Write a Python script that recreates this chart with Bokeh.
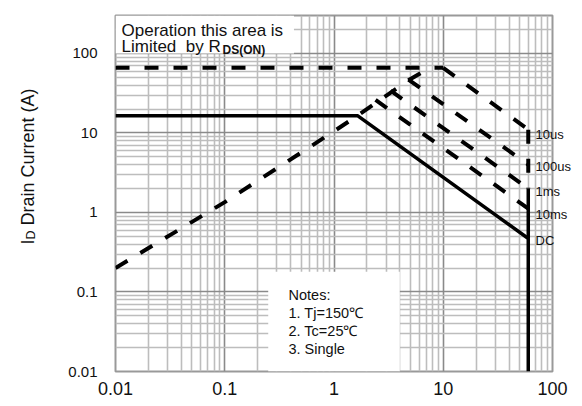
import math
from bokeh.plotting import figure
from bokeh.layouts import row
from bokeh.models import FixedTicker, Label, BoxAnnotation, Range1d, LogAxis
from bokeh.embed import file_html
from bokeh.resources import INLINE

# ---------------- data ----------------
x_ticks = [0.01, 0.1, 1, 10, 100]
x_tick_labels = ["0.01", "0.1", "1", "10", "100"]
y_ticks = [0.01, 0.1, 1, 10, 100]
y_tick_labels = ["0.01", "0.1", "1", "10", "100"]

vds_max = 60          # V, drain-source limit

# R_DS(ON) limit line
rds_x = [0.01, 0.1, 1, 1.64, 4.8, 7.5]
rds_y = [0.2, 1.35, 10.5, 16.5, 46, 66]

# pulsed current limit (horizontal)
ipk_x = [0.01, 10]
ipk_y = [66, 66]

# DC curve
dc_x = [0.01, 1.64, 60, 60]
dc_y = [16.5, 16.5, 0.47, 0.01]
dc_end_y = 0.47

# single pulse curves
pulse_names = ["10us", "100us", "1ms", "10ms"]
pulse_start_x = [10, 4.8, 3.3, 2.4]
pulse_start_y = [66, 47, 34, 26]
pulse_end_y = [11, 4.0, 2.0, 1.12]

# curve labels at right edge (y position)
curve_labels = ["10us", "100us", "1ms", "10ms", "DC"]
curve_label_y = [9.7, 3.8, 1.85, 0.94, 0.44]

# ---------------- layout ----------------
LEFT_W = 40
H = 404
FL, FR, FT, FB = 75, 28, 15, 33
FW, FH = 437, 356
FONT = "Liberation Sans"
TXT = "#111111"

p = figure(x_axis_type="log", y_axis_type="log",
           x_range=Range1d(0.01, 100), y_range=Range1d(0.01, 300),
           frame_width=FW, frame_height=FH,
           min_border_left=FL, min_border_right=FR,
           min_border_top=FT, min_border_bottom=FB,
           output_backend="svg", toolbar_location=None)

p.background_fill_color = "white"
p.border_fill_color = "white"
p.outline_line_color = "#999999"
p.outline_line_width = 2

def minors(lo_exp, hi_exp):
    out = []
    for e in range(lo_exp, hi_exp):
        for k in range(2, 10):
            out.append(k * 10.0 ** e)
    return out

xt = FixedTicker(ticks=x_ticks, minor_ticks=minors(-2, 2))
yt = FixedTicker(ticks=y_ticks, minor_ticks=minors(-2, 3))
p.xaxis.ticker = xt
p.yaxis.ticker = yt
p.xgrid.ticker = xt
p.ygrid.ticker = yt

for g in (p.xgrid, p.ygrid):
    g.grid_line_color = "#8a8a8a"
    g.grid_line_width = 1.6
    g.minor_grid_line_color = "#bdbdbd"
    g.minor_grid_line_width = 1.6

def style_axis(ax):
    ax.axis_line_color = None
    ax.major_tick_line_color = None
    ax.minor_tick_line_color = None
    ax.major_tick_out = 0
    ax.minor_tick_out = 0
    ax.major_label_text_font = FONT
    ax.major_label_text_color = TXT

for ax in (p.xaxis[0], p.yaxis[0]):
    style_axis(ax)

p.xaxis.major_label_overrides = dict(zip(x_ticks, x_tick_labels))
p.yaxis.major_label_overrides = dict(zip(y_ticks, y_tick_labels))
p.xaxis.major_label_text_font_size = "18px"
p.yaxis.major_label_text_font_size = "15px"
p.xaxis.major_label_standoff = 10
p.yaxis.major_label_standoff = 18

# right-side curve labels as an axis on the same y scale
rax = LogAxis(ticker=FixedTicker(ticks=curve_label_y, minor_ticks=[]),
              major_label_overrides=dict(zip(curve_label_y, curve_labels)))
style_axis(rax)
rax.major_label_text_font_size = "13px"
rax.major_label_standoff = -17
p.add_layout(rax, "right")

# white note boxes
p.add_layout(BoxAnnotation(left=0.01, right=0.43, bottom=100, top=300,
                           fill_color="white", fill_alpha=1.0, line_color=None,
                           level="underlay"))
p.add_layout(BoxAnnotation(left=0.25, right=4, bottom=0.01, top=0.18,
                           fill_color="white", fill_alpha=1.0, line_color=None,
                           level="underlay"))

DASH = "14 15"
LW = 4

p.line(rds_x, rds_y, line_color="black", line_width=LW, line_dash=DASH)
p.line(ipk_x, ipk_y, line_color="black", line_width=LW, line_dash=DASH)
for sx, sy, ey in zip(pulse_start_x, pulse_start_y, pulse_end_y):
    p.line([sx, vds_max], [sy, ey], line_color="black", line_width=LW, line_dash=DASH)
# vertical Vds limit
p.line([vds_max, vds_max], [pulse_end_y[0], pulse_end_y[2]],
       line_color="black", line_width=LW, line_dash=DASH)
p.line([vds_max, vds_max], [pulse_end_y[2], dc_end_y],
       line_color="black", line_width=3.5)
p.line(dc_x, dc_y, line_color="black", line_width=3.5)

X0 = LEFT_W + FL          # page x of frame left
Y1 = FT + FH              # page y of frame bottom

def lab(text, px, py, size, **kw):
    p.add_layout(Label(x=px - X0, y=Y1 - py, x_units="screen", y_units="screen",
                       text=text, text_font=FONT, text_font_size=size,
                       text_color=TXT, text_baseline="alphabetic",
                       text_align="left", **kw))

# R_DS(ON) note
lab("Operation this area is", 121, 30, "17px")
lab("Limited\u00a0\u00a0by R", 121, 45.7, "17px")
lab("DS(ON)", 222, 49.5, "12px", text_font_style="bold")

# notes
lab("Notes:", 288, 294, "14.5px")
lab("1. Tj=150\u2103", 288, 312, "14.5px")
lab("2. Tc=25\u2103", 288, 330, "14.5px")
lab("3. Single", 288, 348, "14.5px")

# ---------------- left strip with the rotated y title ----------------
t = figure(width=LEFT_W, height=H, x_range=Range1d(0, LEFT_W), y_range=Range1d(0, H),
           min_border=0, min_border_left=0, min_border_right=0,
           min_border_top=0, min_border_bottom=0,
           output_backend="svg", toolbar_location=None)
t.axis.visible = False
t.grid.visible = False
t.outline_line_color = None
t.background_fill_color = "white"
t.border_fill_color = "white"

def tlab(text, px, py, size):
    t.add_layout(Label(x=px, y=H - py, x_units="screen", y_units="screen",
                       text=text, text_font=FONT, text_font_size=size,
                       text_color=TXT, text_baseline="alphabetic",
                       text_align="left", angle=math.pi / 2))

tlab("I", 27, 277, "18px")
tlab("D", 30, 272, "12.5px")
tlab("\u00a0Drain Current (A)", 27, 263, "18px")

layout = row(t, p)
open("out.html", "w").write(file_html(layout, INLINE))
